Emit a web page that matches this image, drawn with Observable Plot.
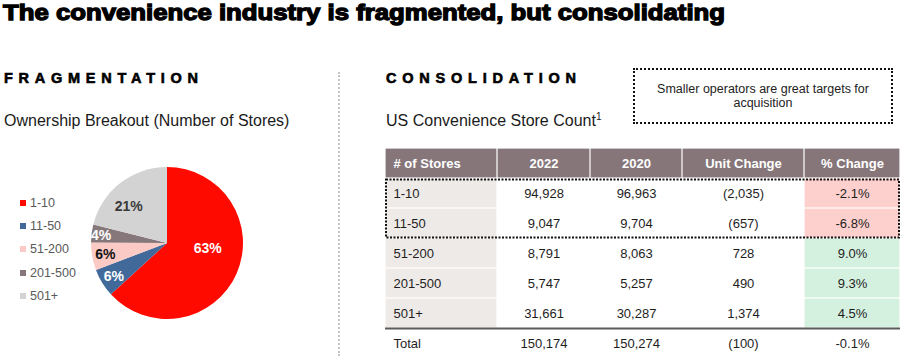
<!DOCTYPE html>
<html><head><meta charset="utf-8">
<script src="https://cdn.jsdelivr.net/npm/d3@7"></script>
<script src="https://cdn.jsdelivr.net/npm/@observablehq/plot@0.6"></script>
<style>
body{margin:0;width:903px;height:356px;overflow:hidden;background:#fff;font-family:"Liberation Sans",Arial,sans-serif;position:relative;color:#000;}
.abs{position:absolute;white-space:nowrap;line-height:1;}
#title{left:3px;top:0.3px;line-height:normal;font-size:22px;font-weight:bold;-webkit-text-stroke:1.3px #000;transform-origin:0 0;}
.sec{font-size:14.5px;font-weight:bold;letter-spacing:5px;-webkit-text-stroke:0.6px #000;top:71px;}
.sub{font-size:16px;color:#1a1a1a;top:113px;}
#divider{position:absolute;left:338px;top:72px;height:284px;border-left:2px dotted #c4c4c4;}
#callout{position:absolute;left:633px;top:68px;width:256px;height:52px;border:2px dotted #111;display:flex;align-items:center;justify-content:center;text-align:center;font-size:12.5px;line-height:14px;color:#222;}
.leg{position:absolute;left:20px;font-size:12.5px;color:#595959;line-height:1;}
.leg i{display:inline-block;width:6px;height:6px;margin-right:4px;vertical-align:1px;}
#pie{position:absolute;left:0;top:150px;}
#table{position:absolute;left:385px;top:148px;}
</style>
</head><body>
<div id="title" class="abs" data-scale="722">The convenience industry is fragmented, but consolidating</div>
<div class="abs sec" style="left:4px" data-w="194">FRAGMENTATION</div>
<div class="abs sub" style="left:4px">Ownership Breakout (Number of Stores)</div>
<div class="abs sec" style="left:386px" data-w="190">CONSOLIDATION</div>
<div class="abs sub" style="left:386px">US Convenience Store Count<sup style="font-size:10px;vertical-align:6px;line-height:0">1</sup></div>
<div id="divider"></div>
<div id="callout">Smaller operators are great targets for<br>acquisition</div>
<div id="legend"></div>
<div id="pie"></div>
<div id="table"></div>
<script>
// ---- data ----
const storeBands = ["1-10", "11-50", "51-200", "201-500", "501+"];
const stores2022 = [94928, 9047, 8791, 5747, 31661];
const stores2020 = [96963, 9704, 8063, 5257, 30287];
const unitChange = [-2035, -657, 728, 490, 1374];
const pctChange = [-2.1, -6.8, 9.0, 9.3, 4.5];
const totals = {label: "Total", y2022: 150174, y2020: 150274, unit: -100, pct: -0.1};
const headers = ["# of Stores", "2022", "2020", "Unit Change", "% Change"];

// ---- styles ----
const pieColors = ["#fe0a00", "#416a9b", "#fbcac5", "#86777b", "#d3d3d3"];
const labelColors = ["#ffffff", "#ffffff", "#111111", "#ffffff", "#3a3a3a"];
const labelRadius = [0.55, 0.83, 0.83, 0.88, 0.7];
const labelDx = [2, 0, 0, 0, -6];
const labelDy = [-12, 0, 0, 0, 5];
const colWidths = [112, 93, 92, 122, 96];
const headerFill = "#86767a", firstColFill = "#eeeae7", negFill = "#fdd0cd", posFill = "#d4f0df";

const colorScale = Plot.scale({color: {type: "ordinal", domain: storeBands, range: pieColors}});

// legend
const legend = document.getElementById("legend");
storeBands.forEach((b, i) => {
  const d = document.createElement("div");
  d.className = "leg";
  d.style.top = (197 + i * 23.2) + "px";
  d.innerHTML = `<i style="background:${colorScale.apply(b)}"></i>${b}`;
  legend.appendChild(d);
});

// ---- pie ----
const total2022 = d3.sum(stores2022);
const arcs = d3.pie().sort(null).value(d => d.value)(storeBands.map((b, i) => ({band: b, value: stores2022[i]})));
const labels = arcs.map((a, i) => {
  const mid = (a.startAngle + a.endAngle) / 2;
  return {
    band: a.data.band,
    x: labelRadius[i] * Math.sin(mid),
    y: labelRadius[i] * Math.cos(mid),
    text: Math.round(a.data.value / total2022 * 100) + "%",
    fill: labelColors[i], dx: labelDx[i], dy: labelDy[i]
  };
});
const piePlot = Plot.plot({
  width: 330, height: 206, margin: 0,
  x: {domain: [-1, 1], range: [91, 243], axis: null},
  y: {domain: [-1, 1], range: [169, 17], axis: null},
  color: {type: "identity"},
  marks: [
    (index, scales) => {
      const cx = scales.x(0), cy = scales.y(0), r = scales.x(1) - scales.x(0);
      const g = d3.create("svg:g").attr("transform", `translate(${cx},${cy})`);
      const arc = d3.arc().innerRadius(0).outerRadius(r);
      g.selectAll("path").data(arcs).join("path")
        .attr("d", arc).attr("fill", d => colorScale.apply(d.data.band));
      return g.node();
    },
    ...labels.map(l => Plot.text([l], {x: "x", y: "y", text: "text", fill: "fill", dx: l.dx, dy: l.dy,
      fontSize: 14, fontWeight: "bold", fontFamily: "Liberation Sans, Arial, sans-serif"}))
  ]
});
document.getElementById("pie").appendChild(piePlot);

// ---- table ----
const colX = [0];
colWidths.forEach(w => colX.push(colX[colX.length - 1] + w));
const fmt = d3.format(",");
const fmtUnit = v => v < 0 ? `(${fmt(-v)})` : fmt(v);
const fmtPct = v => v.toFixed(1) + "%";
const rowsText = [headers];
storeBands.forEach((b, i) => rowsText.push([b, fmt(stores2022[i]), fmt(stores2020[i]), fmtUnit(unitChange[i]), fmtPct(pctChange[i])]));
rowsText.push([totals.label, fmt(totals.y2022), fmt(totals.y2020), fmtUnit(totals.unit), fmtPct(totals.pct)]);

const cells = [];
rowsText.forEach((row, r) => row.forEach((t, c) => {
  let fill = "#ffffff";
  if (r === 0) fill = headerFill;
  else if (r <= storeBands.length) {
    if (c === 0) fill = firstColFill;
    else if (c === 4) fill = pctChange[r - 1] < 0 ? negFill : posFill;
  }
  cells.push({r, c, x1: colX[c], x2: colX[c + 1], xm: (colX[c] + colX[c + 1]) / 2, xl: colX[c] + 8,
    y1: r, y2: r + 1, ym: r + 0.5, fill, text: t,
    color: r === 0 ? "#ffffff" : "#1e1e1e", weight: r === 0 ? "bold" : "normal"});
}));

const font = "Liberation Sans, Arial, sans-serif";
const tablePlot = Plot.plot({
  width: 518, height: 208, margin: 0,
  x: {domain: [0, 518], range: [0, 518], axis: null},
  y: {domain: [0, 7], range: [0, 210], axis: null},
  color: {type: "identity"},
  marks: [
    Plot.rect(cells.filter(d => d.fill !== "#ffffff"), {x1: "x1", x2: "x2", y1: "y1", y2: "y2", fill: "fill", inset: 0.6}),
    Plot.ruleY([storeBands.length + 1], {x1: 0, x2: colX[5], stroke: "#5b5b5b", strokeWidth: 2}),
    Plot.rect([{x1: 0, x2: colX[5], y1: 1, y2: 3}], {x1: "x1", x2: "x2", y1: "y1", y2: "y2",
      fill: "none", stroke: "#111", strokeWidth: 2, strokeDasharray: "2,1.5", insetTop: 1.5, insetBottom: 0.5, insetLeft: 1, insetRight: 1}),
    Plot.text(cells.filter(d => d.c === 0 && d.r === 0), {x: "xl", y: "ym", text: "text", fill: "color", textAnchor: "start", fontSize: 13, fontWeight: "bold", fontFamily: font}),
    Plot.text(cells.filter(d => d.c > 0 && d.r === 0), {x: "xm", y: "ym", text: "text", fill: "color", fontSize: 13, fontWeight: "bold", fontFamily: font}),
    Plot.text(cells.filter(d => d.c === 0 && d.r > 0), {x: "xl", y: "ym", text: "text", fill: "color", textAnchor: "start", fontSize: 13, fontFamily: font}),
    Plot.text(cells.filter(d => d.c > 0 && d.r > 0), {x: "xm", y: "ym", text: "text", fill: "color", fontSize: 13, fontFamily: font})
  ]
});
document.getElementById("table").appendChild(tablePlot);

// fit spaced headings to the reference widths via letter spacing
document.querySelectorAll("[data-w]").forEach(el => {
  const n = el.textContent.length;
  const ls0 = parseFloat(getComputedStyle(el).letterSpacing) || 0;
  const w = el.getBoundingClientRect().width - ls0;
  const ls = ls0 + ((+el.dataset.w) - w) / (n - 1);
  el.style.letterSpacing = ls + "px";
});
// widen the heavy title glyphs to the reference width
document.querySelectorAll("[data-scale]").forEach(el => {
  const w = el.getBoundingClientRect().width;
  el.style.transform = `scaleX(${(+el.dataset.scale) / w})`;
});
</script>
</body></html>
